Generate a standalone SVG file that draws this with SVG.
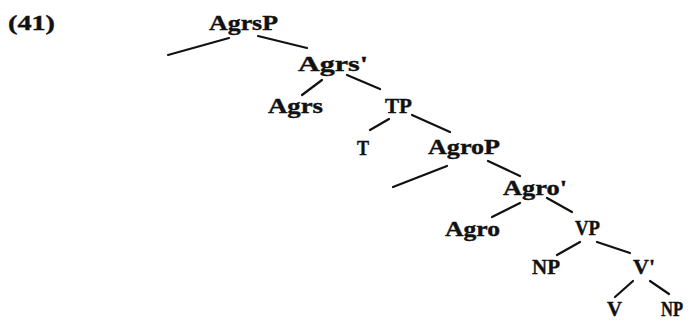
<svg xmlns="http://www.w3.org/2000/svg" width="689" height="320" viewBox="0 0 689 320">
  <style>
    text { font-family: "Liberation Serif", "DejaVu Serif", serif; font-weight: bold; font-size: 22px; fill: #111; stroke: #111; stroke-width: 0.4; }
    .edge { stroke: #111; stroke-width: 2.2; stroke-linecap: round; fill: none; }
  </style>
  <rect width="689" height="320" fill="#fff"/>
  <text id="ex-num" x="8" y="30" textLength="47" lengthAdjust="spacingAndGlyphs">(41)</text>

  <g id="edges">
    <line class="edge" x1="229" y1="38" x2="168" y2="55"/>
    <line class="edge" x1="258" y1="36" x2="307" y2="48"/>
    <line class="edge" x1="322" y1="80" x2="302" y2="95"/>
    <line class="edge" x1="347" y1="75" x2="380" y2="89"/>
    <line class="edge" x1="389" y1="119" x2="370" y2="130"/>
    <line class="edge" x1="412" y1="115" x2="450" y2="132"/>
    <line class="edge" x1="447" y1="166" x2="393" y2="187"/>
    <line class="edge" x1="488" y1="161" x2="520" y2="176"/>
    <line class="edge" x1="520" y1="203" x2="492" y2="217"/>
    <line class="edge" x1="547" y1="198" x2="572" y2="212"/>
    <line class="edge" x1="580" y1="242" x2="557" y2="255"/>
    <line class="edge" x1="597" y1="242" x2="630" y2="253"/>
    <line class="edge" x1="633" y1="281" x2="615" y2="297"/>
    <line class="edge" x1="650" y1="281" x2="669" y2="294"/>
  </g>

  <g id="AgrsP"><text x="209" y="30" textLength="69" lengthAdjust="spacingAndGlyphs">AgrsP</text></g>
  <g id="Agrs-bar"><text x="298" y="71" textLength="70" lengthAdjust="spacingAndGlyphs">Agrs'</text></g>
  <g id="Agrs"><text x="268" y="113" textLength="55" lengthAdjust="spacingAndGlyphs">Agrs</text></g>
  <g id="TP"><text x="385" y="113" textLength="27" lengthAdjust="spacingAndGlyphs">TP</text></g>
  <g id="T"><text x="357" y="155" textLength="12" lengthAdjust="spacingAndGlyphs">T</text></g>
  <g id="AgroP"><text x="428" y="154" textLength="72" lengthAdjust="spacingAndGlyphs">AgroP</text></g>
  <g id="Agro-bar"><text x="503" y="195" textLength="64" lengthAdjust="spacingAndGlyphs">Agro'</text></g>
  <g id="Agro"><text x="445" y="236" textLength="55" lengthAdjust="spacingAndGlyphs">Agro</text></g>
  <g id="VP"><text x="575" y="235" textLength="25" lengthAdjust="spacingAndGlyphs">VP</text></g>
  <g id="NP-spec"><text x="532" y="274" textLength="28" lengthAdjust="spacingAndGlyphs">NP</text></g>
  <g id="V-bar"><text x="633" y="274" textLength="22" lengthAdjust="spacingAndGlyphs">V'</text></g>
  <g id="V"><text x="607" y="316" textLength="15" lengthAdjust="spacingAndGlyphs">V</text></g>
  <g id="NP-obj"><text x="661" y="316" textLength="22" lengthAdjust="spacingAndGlyphs">NP</text></g>
</svg>
